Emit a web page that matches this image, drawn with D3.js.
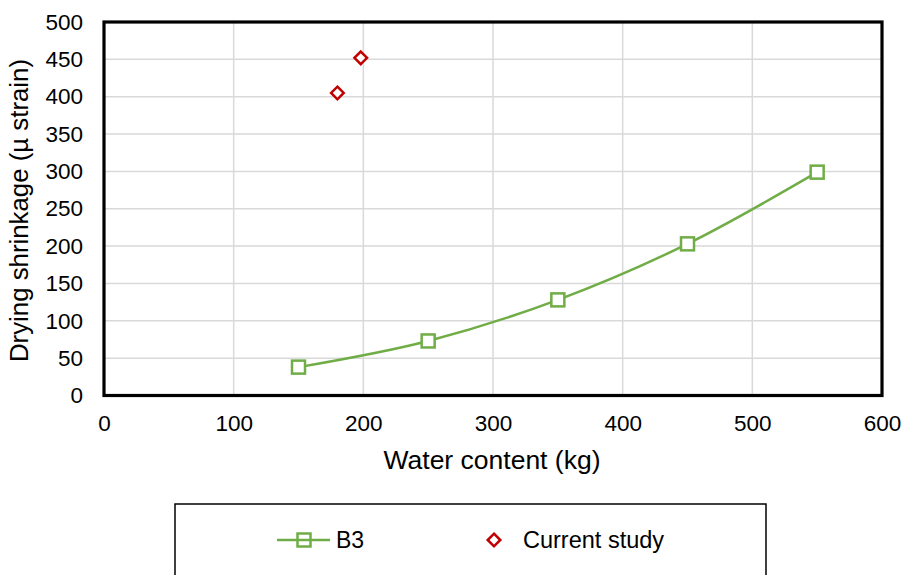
<!DOCTYPE html>
<html>
<head>
<meta charset="utf-8">
<script src="https://cdn.jsdelivr.net/npm/d3@7"></script>
<style>
  html, body { margin: 0; padding: 0; background: #fff; }
  svg { display: block; font-family: "Liberation Sans", Arial, sans-serif; }
</style>
</head>
<body>
<svg id="chart" width="905" height="575"></svg>
<script>
// B3 reference series
const b3Water = [150, 250, 350, 450, 550];
const b3Shrinkage = [38, 73, 128, 203, 299];

// Current study measurements
const studyWater = [180, 198];
const studyShrinkage = [405, 452];

// Axis ticks
const xTicks = [0, 100, 200, 300, 400, 500, 600];
const yTicks = [0, 50, 100, 150, 200, 250, 300, 350, 400, 450, 500];

const legendLabels = ["B3", "Current study"];

const green = "#70ad47";
const red = "#c00000";
const grid = "#d9d9d9";

const svg = d3.select("#chart");
const plotL = 104, plotT = 22, plotR = 882, plotB = 395.5;

const x = d3.scaleLinear().domain([0, 600]).range([plotL, plotR]);
const y = d3.scaleLinear().domain([0, 500]).range([plotB, plotT]);

// Gridlines
svg.append("g").selectAll("line").data(xTicks).join("line")
  .attr("x1", d => x(d)).attr("x2", d => x(d))
  .attr("y1", plotT).attr("y2", plotB)
  .attr("stroke", grid).attr("stroke-width", 1.5);
svg.append("g").selectAll("line").data(yTicks).join("line")
  .attr("x1", plotL).attr("x2", plotR)
  .attr("y1", d => y(d)).attr("y2", d => y(d))
  .attr("stroke", grid).attr("stroke-width", 1.5);

// Axes (labels only; the frame is drawn separately)
const xAxis = svg.append("g")
  .attr("transform", `translate(0,${plotB})`)
  .call(d3.axisBottom(x).tickValues(xTicks).tickSize(0).tickPadding(20));
const yAxis = svg.append("g")
  .attr("transform", `translate(${plotL},0)`)
  .call(d3.axisLeft(y).tickValues(yTicks).tickSize(0).tickPadding(21));
[xAxis, yAxis].forEach(a => {
  a.select(".domain").remove();
  a.selectAll("text").attr("font-size", 22.5).attr("fill", "#000")
    .attr("font-family", "Liberation Sans, Arial, sans-serif");
});

// Plot frame
svg.append("rect")
  .attr("x", plotL).attr("y", plotT)
  .attr("width", plotR - plotL).attr("height", plotB - plotT)
  .attr("fill", "none").attr("stroke", "#000").attr("stroke-width", 3.2);

// Axis titles
svg.append("text")
  .attr("x", 492).attr("y", 469)
  .attr("text-anchor", "middle").attr("font-size", 26.5)
  .text("Water content (kg)");
svg.append("text")
  .attr("transform", `translate(28,${(48 + 373) / 2}) rotate(-90)`)
  .attr("text-anchor", "middle").attr("font-size", 25.8)
  .text("Drying shrinkage (µ strain)");

// B3 smoothed line
const b3 = b3Water.map((w, i) => [w, b3Shrinkage[i]]);
svg.append("path")
  .datum(b3)
  .attr("d", d3.line().x(d => x(d[0])).y(d => y(d[1])).curve(d3.curveCardinal.tension(0)))
  .attr("fill", "none").attr("stroke", green).attr("stroke-width", 2.5);

const sq = 13;
svg.append("g").selectAll("rect").data(b3).join("rect")
  .attr("x", d => x(d[0]) - sq / 2).attr("y", d => y(d[1]) - sq / 2)
  .attr("width", sq).attr("height", sq)
  .attr("fill", "#fff").attr("stroke", green).attr("stroke-width", 2.5);

// Current study diamonds
const study = studyWater.map((w, i) => [w, studyShrinkage[i]]);
const diamond = r => `M0,${-r}L${r},0L0,${r}L${-r},0Z`;
svg.append("g").selectAll("path").data(study).join("path")
  .attr("transform", d => `translate(${x(d[0])},${y(d[1])})`)
  .attr("d", diamond(6.3))
  .attr("fill", "#fff").attr("stroke", red).attr("stroke-width", 2.5);

// Legend
const lg = svg.append("g");
lg.append("rect")
  .attr("x", 175).attr("y", 504).attr("width", 591).attr("height", 90)
  .attr("fill", "#fff").attr("stroke", "#000").attr("stroke-width", 1.5);
const ly = 540;
lg.append("line").attr("x1", 277).attr("x2", 330).attr("y1", ly).attr("y2", ly)
  .attr("stroke", green).attr("stroke-width", 2.5);
lg.append("rect").attr("x", 304 - sq / 2).attr("y", ly - sq / 2)
  .attr("width", sq).attr("height", sq)
  .attr("fill", "none").attr("stroke", green).attr("stroke-width", 2.5);
lg.append("text").attr("x", 336).attr("y", ly).attr("dy", "0.35em")
  .attr("font-size", 23).text(legendLabels[0]);
lg.append("path").attr("transform", `translate(494,${ly})`).attr("d", diamond(6.3))
  .attr("fill", "#fff").attr("stroke", red).attr("stroke-width", 2.5);
lg.append("text").attr("x", 523).attr("y", ly).attr("dy", "0.35em")
  .attr("font-size", 23.5).text(legendLabels[1]);
</script>
</body>
</html>
